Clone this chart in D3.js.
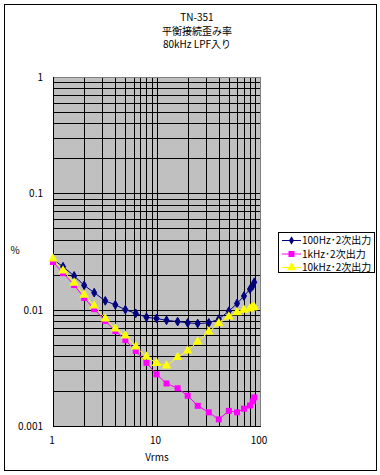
<!DOCTYPE html>
<html><head><meta charset="utf-8">
<script src="https://cdn.jsdelivr.net/npm/d3@7"></script>
<style>
html,body{margin:0;padding:0;background:#fff;}
text{font-family:"Noto Sans CJK JP","Noto Sans",sans-serif;font-size:10px;fill:#000;}
</style></head>
<body><svg id="c" width="380" height="475"></svg>
<script>
const titleLines = ["TN-351", "平衡接続歪み率", "80kHz LPF入り"];
const xValues = [1, 1.25, 1.6, 2, 2.5, 3.2, 4, 5, 6.3, 8, 10, 12.5, 16, 20, 25, 32, 40, 50, 60, 70, 80, 85, 88];
const s100Hz = [0.027, 0.0234, 0.0195, 0.0162, 0.0140, 0.0119, 0.0110, 0.0100, 0.0093, 0.0086, 0.0084, 0.0081, 0.0079, 0.0077, 0.0076, 0.0077, 0.0083, 0.0097, 0.0113, 0.0131, 0.0150, 0.0160, 0.0172];
const s1kHz = [0.0257, 0.0206, 0.0163, 0.0126, 0.0101, 0.0080, 0.00655, 0.00548, 0.00441, 0.00349, 0.00278, 0.00232, 0.00211, 0.00182, 0.00149, 0.00131, 0.00114, 0.00135, 0.00131, 0.00141, 0.00150, 0.00163, 0.00176];
const s10kHz = [0.0274, 0.0216, 0.0170, 0.0134, 0.0108, 0.00836, 0.00686, 0.00597, 0.00480, 0.00394, 0.00347, 0.00330, 0.00390, 0.00443, 0.00530, 0.00646, 0.00762, 0.00868, 0.00947, 0.00993, 0.0102, 0.0104, 0.0105];
const seriesNames = ["100Hz･2次出力", "1kHz･2次出力", "10kHz･2次出力"];
const xTickLabels = ["1", "10", "100"];
const yTickLabels = ["0.001", "0.01", "0.1", "1"];
const xAxisTitle = "Vrms";
const yAxisTitle = "%";

const svg = d3.select("#c");
const L = 53, R = 260, T = 77, B = 426;
const x = d3.scaleLog().domain([1, 100]).range([L, R]);
const y = d3.scaleLog().domain([0.001, 1]).range([B, T]);

// outer border
svg.append("rect").attr("x", 4.5).attr("y", 4.5).attr("width", 372).attr("height", 466)
  .attr("fill", "#fff").attr("stroke", "#000").attr("stroke-width", 1);

// title
svg.selectAll("text.title").data(titleLines).join("text").attr("class", "title")
  .attr("x", 197).attr("y", (d, i) => 21 + i * 13.5).attr("text-anchor", "middle").text(d => d);

// plot background
svg.append("rect").attr("x", L).attr("y", T).attr("width", R - L).attr("height", B - T).attr("fill", "#c0c0c0");

// grid
const gridX = [], gridY = [];
for (let d = 1; d < 100; d *= 10) for (let k = 1; k <= 9; k++) gridX.push(d * k);
gridX.push(100);
for (let d = 0.001; d < 0.99; d *= 10) for (let k = 1; k <= 9; k++) gridY.push(d * k);
gridY.push(1);
const g = svg.append("g");
g.selectAll("line.gx").data(gridX).join("line")
  .attr("x1", d => Math.round(x(d)) + 0.5).attr("x2", d => Math.round(x(d)) + 0.5)
  .attr("y1", T).attr("y2", B).attr("stroke", "#000").attr("stroke-width", 1);
g.selectAll("line.gy").data(gridY).join("line")
  .attr("y1", d => Math.round(y(d)) + 0.5).attr("y2", d => Math.round(y(d)) + 0.5)
  .attr("x1", L).attr("x2", R).attr("stroke", "#000").attr("stroke-width", 1);
// plot border: top and right gray
svg.append("line").attr("x1", L).attr("x2", R + 0.5).attr("y1", T + 0.5).attr("y2", T + 0.5).attr("stroke", "#808080");
svg.append("line").attr("x1", R + 0.5).attr("x2", R + 0.5).attr("y1", T).attr("y2", B).attr("stroke", "#808080");
// axes lines
svg.append("line").attr("x1", L + 0.5).attr("x2", L + 0.5).attr("y1", T).attr("y2", B + 1).attr("stroke", "#000");
svg.append("line").attr("x1", L).attr("x2", R + 1).attr("y1", B + 0.5).attr("y2", B + 0.5).attr("stroke", "#000");

// axis labels
const yTickVals = [0.001, 0.01, 0.1, 1];
svg.selectAll("text.yt").data(yTickVals).join("text").attr("class", "yt")
  .attr("x", 43).attr("y", d => y(d) + 4).attr("text-anchor", "end").text((d, i) => yTickLabels[i]);
const xTickVals = [1, 10, 100];
svg.selectAll("text.xt").data(xTickVals).join("text").attr("class", "xt")
  .attr("x", d => x(d) - 1).attr("y", 444).attr("text-anchor", "middle").text((d, i) => xTickLabels[i]);
svg.append("text").attr("x", 157).attr("y", 461).attr("text-anchor", "middle").text(xAxisTitle);
svg.append("text").attr("x", 15).attr("y", 254).attr("text-anchor", "middle").text(yAxisTitle);

// series
const colors = ["#000080", "#ff00ff", "#ffff00"];
const allSeries = [s100Hz, s1kHz, s10kHz];
const line = d3.line().x(d => x(d[0])).y(d => y(d[1]));
const symbols = [d3.symbolDiamond, d3.symbolSquare, d3.symbolTriangle];
const sizes = [22, 36, 40];
const drawOrder = [0, 1, 2];
drawOrder.forEach(si => {
  const pts = xValues.map((v, i) => [v, allSeries[si][i]]);
  svg.append("path").datum(pts).attr("d", line).attr("fill", "none")
    .attr("stroke", colors[si]).attr("stroke-width", 1);
});
drawOrder.forEach(si => {
  const pts = xValues.map((v, i) => [v, allSeries[si][i]]);
  svg.selectAll("path.m" + si).data(pts).join("path").attr("class", "m" + si)
    .attr("transform", d => `translate(${x(d[0])},${y(d[1])})`)
    .attr("d", d3.symbol().type(symbols[si]).size(sizes[si]))
    .attr("fill", colors[si]).attr("stroke", si === 0 ? colors[si] : "none");
});

// legend
const lg = svg.append("g");
lg.append("rect").attr("x", 278.5).attr("y", 232.5).attr("width", 96).attr("height", 40)
  .attr("fill", "#fff").attr("stroke", "#000");
seriesNames.forEach((name, i) => {
  const yy = 240 + i * 13.5;
  lg.append("line").attr("x1", 282).attr("x2", 301).attr("y1", yy + 0.5).attr("y2", yy + 0.5).attr("stroke", colors[i]);
  lg.append("path").attr("transform", `translate(291.5,${yy + 0.5})`)
    .attr("d", d3.symbol().type(symbols[i]).size(sizes[i])).attr("fill", colors[i]);
  lg.append("text").attr("x", 302).attr("y", yy + 4).text(name);
});
</script></body></html>
